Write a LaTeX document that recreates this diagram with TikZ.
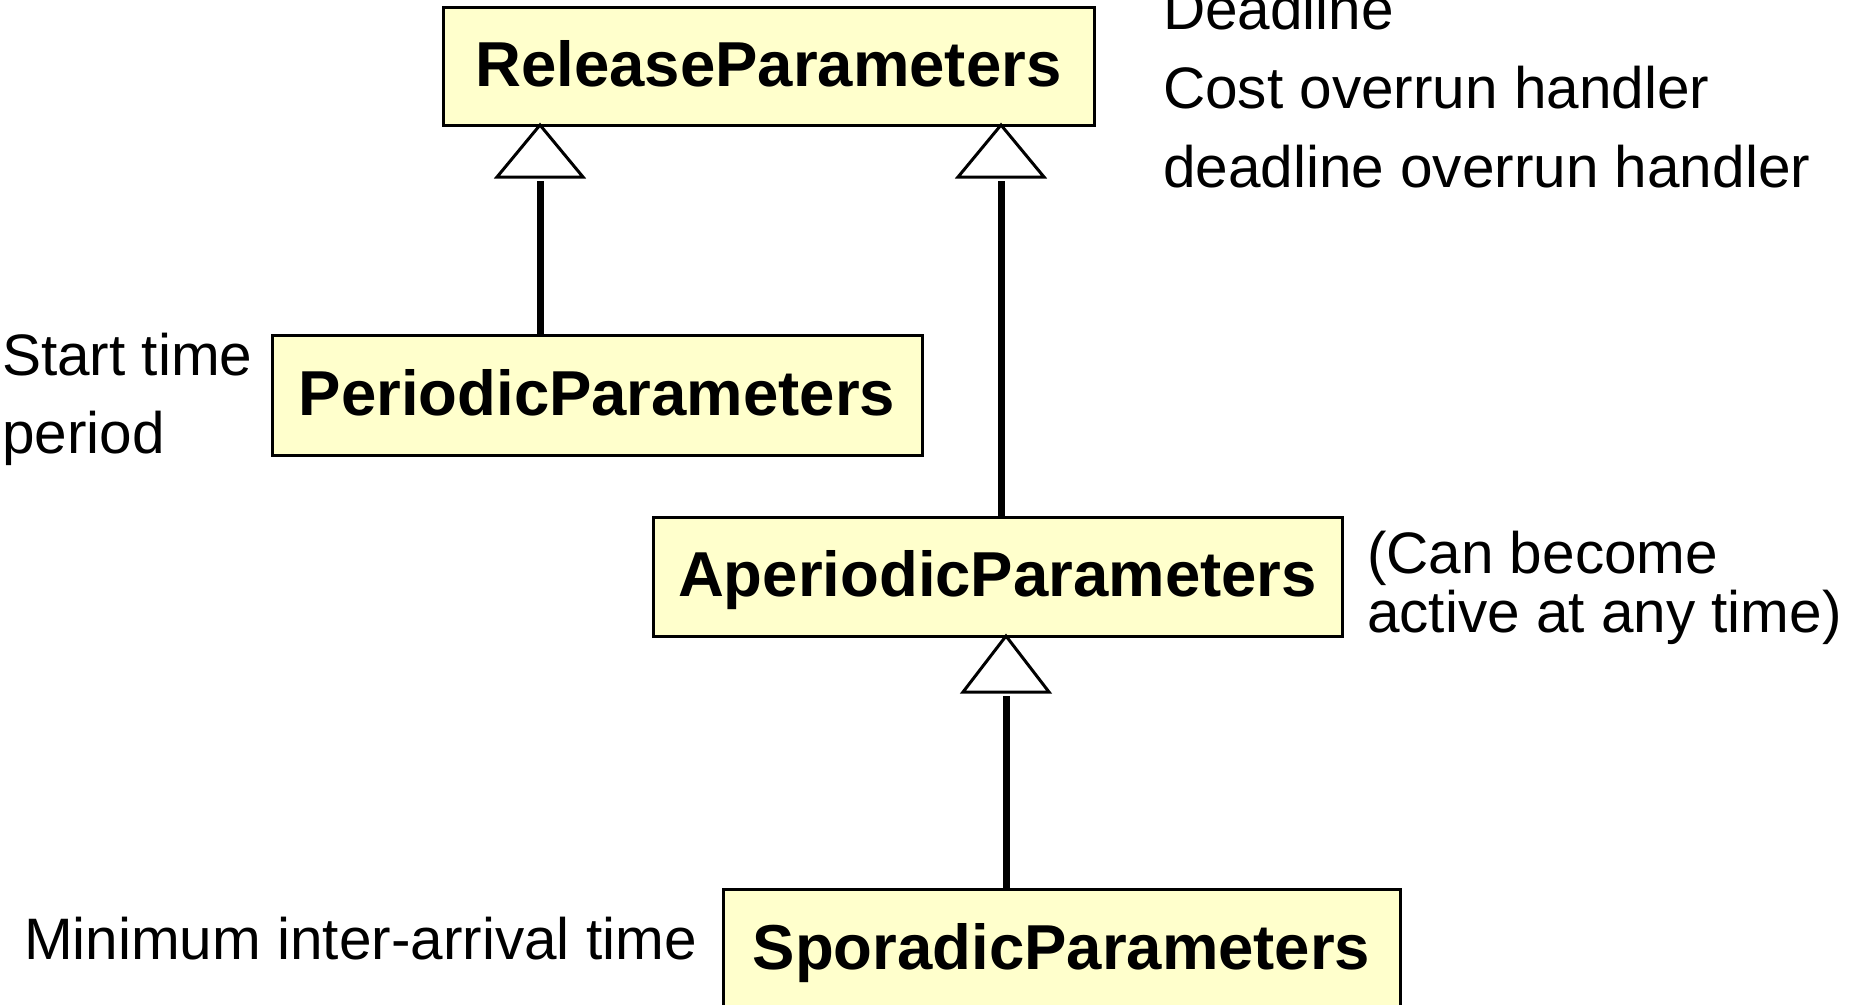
\documentclass[tikz,border=0pt]{standalone}
\usepackage{fontspec}
\setmainfont{Liberation Sans}
\usetikzlibrary{calc}
\definecolor{clsfill}{HTML}{FFFFCC}
\newcommand{\notelines}[1]{\begin{tabular}[t]{@{}l@{}}#1\end{tabular}}
\begin{document}
\begin{tikzpicture}[x=1pt,y=-1pt,
  clsbox/.style={draw=black, line width=3pt, fill=clsfill, inner sep=0pt, outer sep=0pt,
    text height=40pt, text depth=0pt,
    font=\fontsize{63.5}{70}\selectfont\bfseries},
  notetext/.style={anchor=base west, inner sep=0pt, outer sep=0pt},
  conn/.style={line width=7pt},
  gentri/.style={draw=black, fill=white, line width=3pt, line join=miter}]
\clip (0,0) rectangle (1860,1004);
\fill[white] (0,0) rectangle (1860,1004);

% class boxes
\node[clsbox, minimum width=651pt, minimum height=118pt] (rel) at (768.5,66) {ReleaseParameters};
\node[clsbox, minimum width=650pt, minimum height=120pt] (per) at (597,395) {PeriodicParameters};
\node[clsbox, minimum width=689pt, minimum height=119pt] (ape) at (997.5,576.5) {AperiodicParameters};
\node[clsbox, minimum width=677pt, minimum height=120pt] (spo) at (1061.5,949) {SporadicParameters};

% notes
\node[notetext, font=\fontsize{58.5}{79}\selectfont] (relnote) at (1163,29)
  {\notelines{Deadline\\Cost overrun handler\\deadline overrun handler}};
\node[notetext, font=\fontsize{58.5}{78}\selectfont] (pernote) at (2,375)
  {\notelines{Start time\\period}};
\node[notetext, font=\fontsize{58.5}{56}\selectfont] (apenote) at (1367,573)
  {\notelines{(Can become\\active at any time)}};
\node[notetext, font=\fontsize{58.5}{70}\selectfont] (sponote) at (24,959)
  {Minimum inter-arrival time};

% generalization: Periodic -> Release
\coordinate (a1) at (540,125);
\coordinate (b1) at (540,181);
\draw[conn] (per.north -| b1) -- (b1);
\draw[gentri] (a1) -- ++(-43,52) -- ++(86,0) -- cycle;

% generalization: Aperiodic -> Release
\coordinate (a2) at (1001,125);
\coordinate (b2) at (1001,181);
\draw[conn] (ape.north -| b2) -- (b2);
\draw[gentri] (a2) -- ++(-43,52) -- ++(86,0) -- cycle;

% generalization: Sporadic -> Aperiodic
\coordinate (a3) at (1006,636);
\coordinate (b3) at (1006,696);
\draw[conn] (spo.north -| b3) -- (b3);
\draw[gentri] (a3) -- ++(-43,56) -- ++(86,0) -- cycle;
\end{tikzpicture}
\end{document}
